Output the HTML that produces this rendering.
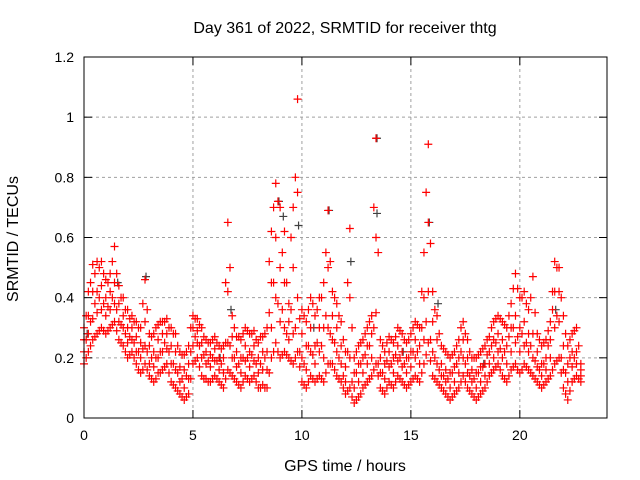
<!DOCTYPE html>
<html><head><meta charset="utf-8"><style>
body{margin:0;background:#fff}
svg{display:block;font-family:"Liberation Sans",sans-serif}
</style></head><body>
<svg id="c" width="640" height="480"></svg>
<script>
const times=[];for(let i=0;i<=114;i++)times.push(+(i*0.2).toFixed(1));
const times2=[];for(let i=0;i<114;i++)times2.push(+(i*0.2+0.1).toFixed(1));
const seriesLo=[.18,.22,.26,.28,.30,.28,.30,.32,.26,.24,.20,.22,.18,.15,.18,.14,.12,.15,.16,.18,.12,.10,.08,.06,.08,.18,.20,.14,.13,.12,.14,.12,.10,.16,.14,.12,.10,.14,.12,.14,.10,.11,.10,.20,.25,.20,.22,.20,.18,.22,.12,.10,.14,.12,.14,.12,.18,.18,.14,.12,.08,.10,.05,.07,.10,.12,.14,.18,.10,.08,.12,.10,.14,.12,.10,.12,.14,.12,.18,.25,.14,.12,.10,.08,.06,.08,.10,.14,.10,.08,.06,.08,.10,.14,.16,.18,.14,.12,.16,.18,.15,.18,.16,.14,.12,.10,.12,.14,.18,.20,.10,.06,.12,.14,.12];
const seriesQ1=[.22,.28,.33,.35,.36,.34,.36,.38,.32,.30,.25,.26,.22,.20,.24,.18,.17,.20,.22,.23,.18,.16,.12,.10,.13,.24,.25,.20,.18,.17,.19,.16,.15,.25,.20,.17,.15,.19,.17,.19,.15,.16,.16,.30,.40,.32,.30,.26,.28,.40,.20,.16,.22,.18,.22,.20,.30,.26,.22,.18,.12,.20,.10,.12,.15,.18,.20,.35,.15,.13,.17,.15,.19,.17,.15,.17,.20,.18,.26,.42,.22,.18,.14,.12,.10,.12,.15,.20,.15,.12,.10,.12,.14,.18,.20,.22,.20,.18,.22,.25,.22,.24,.22,.20,.17,.14,.16,.20,.30,.32,.16,.12,.17,.18,.14];
const seriesQ3=[.26,.34,.42,.42,.44,.40,.42,.45,.38,.34,.30,.30,.27,.25,.32,.24,.22,.26,.28,.28,.24,.22,.17,.16,.18,.30,.29,.25,.22,.21,.23,.20,.20,.42,.27,.22,.20,.24,.22,.24,.20,.22,.22,.45,.60,.50,.45,.32,.50,.75,.28,.24,.30,.24,.30,.30,.50,.34,.30,.24,.17,.40,.15,.18,.20,.24,.28,.60,.20,.18,.22,.20,.24,.22,.20,.22,.26,.24,.40,.65,.32,.26,.18,.16,.15,.17,.20,.26,.20,.16,.15,.17,.18,.22,.26,.28,.26,.24,.30,.34,.30,.32,.28,.28,.22,.18,.20,.26,.42,.42,.24,.18,.22,.22,.16];
const seriesHi=[.30,.42,.51,.52,.52,.46,.48,.57,.44,.40,.36,.34,.32,.30,.46,.28,.28,.31,.32,.33,.30,.28,.22,.21,.24,.34,.33,.30,.26,.25,.27,.24,.24,.65,.34,.27,.26,.30,.28,.29,.25,.27,.30,.62,.78,.70,.62,.38,.70,1.06,.36,.32,.40,.34,.40,.45,.69,.42,.38,.32,.22,.63,.20,.24,.26,.30,.34,.93,.26,.22,.27,.25,.30,.28,.25,.28,.32,.30,.55,.91,.42,.34,.24,.22,.20,.22,.26,.32,.26,.20,.20,.22,.24,.27,.32,.34,.32,.30,.38,.48,.40,.42,.36,.47,.28,.24,.26,.32,.52,.50,.34,.24,.28,.30,.18];
const seriesLo2=[.20,.24,.27,.29,.29,.29,.31,.29,.25,.22,.21,.20,.16,.16,.16,.13,.13,.15,.17,.15,.11,.09,.07,.07,.13,.19,.17,.13,.12,.13,.13,.11,.13,.15,.13,.11,.12,.13,.13,.12,.10,.10,.15,.22,.22,.21,.21,.19,.20,.17,.11,.12,.13,.13,.13,.15,.18,.16,.13,.10,.09,.07,.06,.08,.11,.13,.16,.14,.09,.10,.11,.12,.13,.11,.11,.13,.13,.15,.21,.19,.13,.11,.09,.07,.07,.09,.12,.12,.09,.07,.07,.09,.12,.15,.17,.16,.13,.14,.17,.16,.16,.17,.15,.13,.11,.11,.13,.16,.19,.15,.08,.09,.13,.13];
const seriesMid2=[.26,.32,.38,.40,.38,.37,.40,.36,.31,.28,.27,.25,.22,.23,.22,.20,.20,.22,.25,.22,.18,.15,.13,.14,.22,.27,.24,.21,.19,.20,.19,.18,.25,.24,.20,.18,.20,.20,.21,.18,.18,.20,.35,.45,.38,.36,.28,.36,.30,.22,.18,.24,.21,.25,.24,.34,.28,.25,.20,.14,.22,.12,.15,.18,.21,.24,.30,.18,.15,.19,.18,.21,.20,.18,.20,.22,.22,.30,.32,.26,.20,.16,.14,.13,.15,.18,.22,.18,.14,.13,.15,.17,.21,.24,.25,.23,.22,.27,.30,.27,.28,.25,.24,.19,.16,.18,.24,.36,.34,.20,.15,.20,.20];
const seriesHi2=[.34,.45,.48,.50,.48,.45,.52,.48,.40,.36,.33,.32,.30,.38,.36,.27,.30,.32,.32,.30,.28,.24,.21,.22,.30,.33,.31,.27,.25,.26,.25,.23,.45,.50,.30,.27,.28,.29,.28,.26,.27,.28,.52,.70,.72,.55,.45,.60,.80,.33,.34,.36,.38,.36,.40,.55,.52,.40,.34,.26,.45,.30,.22,.25,.28,.32,.70,.55,.24,.25,.26,.27,.29,.26,.26,.30,.31,.42,.75,.58,.36,.28,.23,.21,.21,.24,.30,.28,.22,.20,.21,.23,.26,.30,.33,.33,.31,.34,.43,.43,.40,.38,.40,.35,.26,.25,.29,.42,.50,.40,.28,.26,.29,.24];
const darkT=[0.1,1.5,2.8,6.7,8.9,9.1,9.8,11.2,12.2,13.4,13.4,15.8,16.2,21.6,10.5,14.6,18.3,6.2];
const darkV=[.28,.45,.47,.36,.72,.67,.64,.69,.52,.93,.68,.65,.38,.36,.30,.22,.18,.20];
const yTicks=[0,0.2,0.4,0.6,0.8,1,1.2];
const xTicks=[0,5,10,15,20];
const L=84,R=607,T=57,B=418,XMAX=24,YMAX=1.2;
const X=v=>L+(R-L)*v/XMAX, Y=v=>B-(B-T)*v/YMAX;
const svg=document.getElementById('c');const NS='http://www.w3.org/2000/svg';
function mk(tag,a,p){const e=document.createElementNS(NS,tag);for(const k in a)e.setAttribute(k,a[k]);(p||svg).appendChild(e);return e;}
const grid=mk('g',{});


yTicks.forEach(v=>{
 if(v>0&&v<YMAX)mk('line',{x1:L,x2:R,y1:Y(v),y2:Y(v),stroke:'#a0a0a0','stroke-dasharray':'3,3'},grid);
 mk('line',{x1:L,x2:L+8,y1:Y(v),y2:Y(v),stroke:'#000'});mk('line',{x1:R-8,x2:R,y1:Y(v),y2:Y(v),stroke:'#000'});
 const t=mk('text',{x:L-10,y:Y(v)+5,'text-anchor':'end','font-size':14,fill:'#000'});t.textContent=String(v);
 
 
});
xTicks.forEach(v=>{
 if(v>0)mk('line',{x1:X(v),x2:X(v),y1:T,y2:B,stroke:'#a0a0a0','stroke-dasharray':'3,3'},grid);
 mk('line',{x1:X(v),x2:X(v),y1:B,y2:B-8,stroke:'#000'});mk('line',{x1:X(v),x2:X(v),y1:T,y2:T+8,stroke:'#000'});
 const t=mk('text',{x:X(v),y:B+22,'text-anchor':'middle','font-size':14,fill:'#000'});t.textContent=String(v);
 
 
});
function cross(x,y,col,g){mk('path',{d:`M${x-4},${y}h8M${x},${y-4}v8`,stroke:col,'stroke-width':1.2},g);}
const dk=mk('g',{});


darkT.forEach((t,i)=>cross(X(t)+1,Y(darkV[i]),'#404040',dk));
const rg=mk('g',{});


[seriesLo,seriesQ1,seriesQ3,seriesHi].forEach(arr=>times.forEach((t,i)=>{if(arr[i]!=null)cross(X(t),Y(arr[i]),'#ff0000',rg);}));
[seriesLo2,seriesMid2,seriesHi2].forEach(arr=>times2.forEach((t,i)=>{if(arr[i]!=null)cross(X(t),Y(arr[i]),'#ff0000',rg);}));
const fr=mk('rect',{x:L,y:T,width:R-L,height:B-T,fill:'none',stroke:'#000'});


const ti=mk('text',{x:345,y:33,'text-anchor':'middle','font-size':16});ti.textContent='Day 361 of 2022, SRMTID for receiver thtg';


const xl=mk('text',{x:345,y:471,'text-anchor':'middle','font-size':16});xl.textContent='GPS time / hours';


const yl=mk('text',{x:18,y:239,'text-anchor':'middle','font-size':16,transform:'rotate(-90 18 239)'});yl.textContent='SRMTID / TECUs';


</script>
</body></html>
